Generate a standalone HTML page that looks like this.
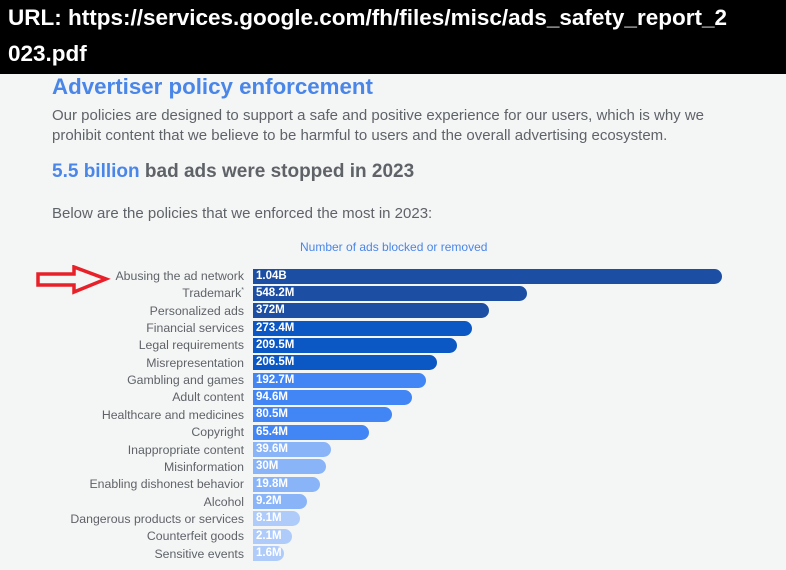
<!DOCTYPE html>
<html><head><style>
body{margin:0;width:786px;height:570px;background:#f4f5f5;position:relative;overflow:hidden;font-family:"Liberation Sans",sans-serif}
#hdr{position:absolute;left:0;top:0;width:786px;height:74px;background:#000;color:#fff;font-weight:bold;font-size:22.5px;line-height:36px;padding-left:8px;box-sizing:border-box}
.t{position:absolute;white-space:nowrap}
.lab{position:absolute;right:542px;font-size:12.3px;color:#5f6368;white-space:nowrap}
.bar{position:absolute;left:253px;height:15px;border-radius:0 8px 8px 0;color:#fff;font-weight:bold;font-size:11.5px;line-height:15px;padding-left:3px;box-sizing:border-box}
</style></head><body>
<div id="hdr">URL: https://services.google.com/fh/files/misc/ads_safety_report_2<br>023.pdf</div>
<div class="t" style="left:52px;top:74px;font-size:22.3px;font-weight:bold;color:#4a86e8">Advertiser policy enforcement</div>
<div class="t" style="left:52px;top:106px;font-size:15px;color:#5f6368;line-height:20px">Our policies are designed to support a safe and positive experience for our users, which is why we<br>prohibit content that we believe to be harmful to users and the overall advertising ecosystem.</div>
<div class="t" style="left:52px;top:161px;font-size:19px;font-weight:bold;color:#5f6368"><span style="color:#4a86e8">5.5 billion</span> bad ads were stopped in 2023</div>
<div class="t" style="left:52px;top:205px;font-size:15px;color:#5f6368">Below are the policies that we enforced the most in 2023:</div>
<div class="t" style="left:300px;top:240px;font-size:12px;color:#4a86e8">Number of ads blocked or removed</div>
<svg style="position:absolute;left:36px;top:265px" width="75" height="30"><polygon points="2,9 38,9 38,2 70,14 38,27 38,20 2,20" fill="none" stroke="#e8202a" stroke-width="3.5" stroke-linejoin="miter"/></svg>
<div id="c"></div>
<script>
var d=[["Abusing the ad network","1.04B",722,"#1c4fa3"],["Trademark*","548.2M",527,"#1c4fa3"],["Personalized ads","372M",489,"#1c4fa3"],["Financial services","273.4M",472,"#0b57c4"],["Legal requirements","209.5M",457,"#0b57c4"],["Misrepresentation","206.5M",437,"#0b57c4"],["Gambling and games","192.7M",426,"#4285f4"],["Adult content","94.6M",412,"#4285f4"],["Healthcare and medicines","80.5M",392,"#4285f4"],["Copyright","65.4M",369,"#4285f4"],["Inappropriate content","39.6M",331,"#8ab4f8"],["Misinformation","30M",326,"#8ab4f8"],["Enabling dishonest behavior","19.8M",320,"#8ab4f8"],["Alcohol","9.2M",307,"#8ab4f8"],["Dangerous products or services","8.1M",300,"#aecbfa"],["Counterfeit goods","2.1M",292,"#aecbfa"],["Sensitive events","1.6M",284,"#aecbfa"]];
var h="";d.forEach(function(r,i){var c=276+i*17.35;var l=r[0].replace("*","<sup style='font-size:7px'>*</sup>");
h+='<div class="lab" style="top:'+(c-7)+'px">'+l+'</div><div class="bar" style="top:'+(c-7.5)+'px;width:'+(r[2]-253)+'px;background:'+r[3]+'">'+r[1]+'</div>';});
document.getElementById("c").innerHTML=h;
</script>
</body></html>
